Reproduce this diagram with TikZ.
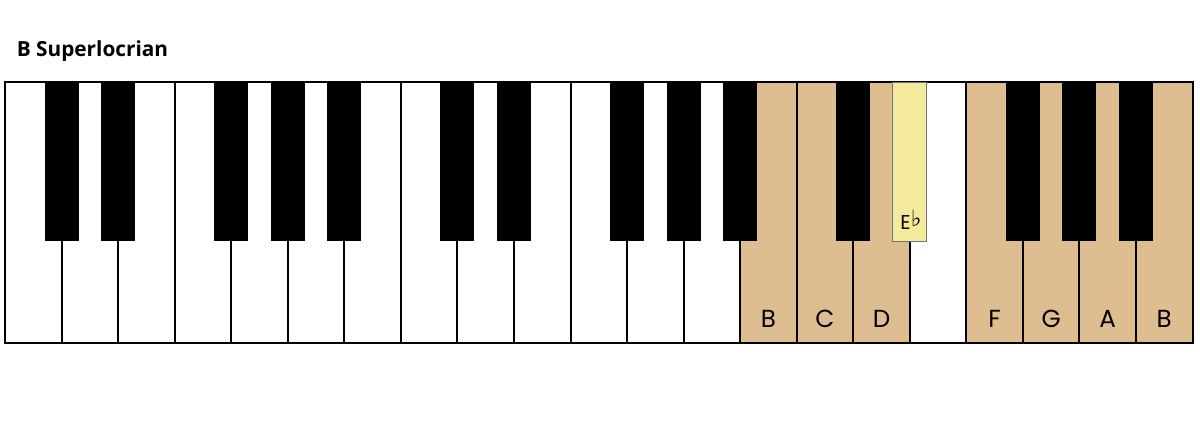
\documentclass[tikz,border=0pt]{standalone}
\usepackage{fontspec}
\setmainfont{Poppins}
\newfontfamily\titlefont{Open Sans}
\newfontfamily\symfont{DejaVu Sans}
\definecolor{keytan}{RGB}{222,189,144}
\definecolor{keyyellow}{RGB}{243,234,155}

\begin{document}
\begin{tikzpicture}[x=0.75pt,y=-0.75pt]
	\tikzset{
		keyline/.style={line width=1.5pt},
		keylabel/.style={font=\fontsize{18.5}{20}\selectfont,inner sep=0pt},
	}
	\useasboundingbox (0,0) rectangle (1200,427);
	\path
	(16.5,56.5) node[anchor=base west,inner sep=0pt,font=\titlefont\bfseries\fontsize{15.6}{17}\selectfont](title){B Superlocrian};
	% scale tones on the white keys
	\foreach \i in {13,14,15,17,18,19,20}
		\fill[keytan] ({5+\i*56.55},82.5) rectangle ({5+(\i+1)*56.55},343);
	\foreach \i in {1,...,20}
		\draw[keyline] ({5+\i*56.55},82.5) -- ({5+\i*56.55},343);
	\draw[keyline] (5,82.5) rectangle (1192.5,343);
	% black keys
	\foreach \o in {0,7,14}
		\foreach \k in {1,2,4,5,6}
			\fill ({5+(\o+\k)*56.55-17},82.5) rectangle ({5+(\o+\k)*56.55+17},241.5);
	\filldraw[fill=keyyellow,draw=black!55,line width=.6pt]
		({5+16*56.55-17},82.5) rectangle ({5+16*56.55+17},241.5);
	\foreach \i/\n in {13/B,14/C,15/D,17/F,18/G,19/A,20/B}
		\path ({5+(\i+.5)*56.55},319) node[keylabel](n\i){\n};
	\path (911,220) node[font=\fontsize{15}{17}\selectfont,inner sep=0pt](eflat){E\kern.3pt\raisebox{.3ex}{\symfont\fontsize{17}{19}\selectfont ♭}};
\end{tikzpicture}
\end{document}
